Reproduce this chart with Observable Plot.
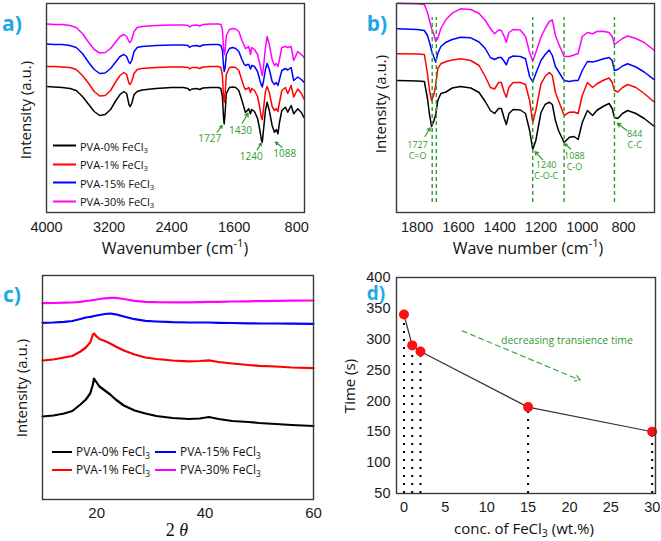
<!DOCTYPE html>
<html><head><meta charset="utf-8">
<script src="https://cdn.jsdelivr.net/npm/d3@7"></script>
<script src="https://cdn.jsdelivr.net/npm/@observablehq/plot@0.6"></script>
<style>
html,body{margin:0;padding:0;background:#fff;}
#fig{position:relative;width:661px;height:541px;overflow:hidden;font-family:"Open Sans",sans-serif;background:#fff;}
.panel{position:absolute;}
.t{position:absolute;white-space:nowrap;transform:translate(-50%,-50%);line-height:1;color:#111;}
.rot{transform:translate(-50%,-50%) rotate(-90deg);}
.lab{font-weight:bold;color:#1ea7e8;font-size:21px;line-height:0.65;}
sub{font-size:70%;vertical-align:-0.3em;line-height:0;}
sup{font-size:70%;vertical-align:0.6em;line-height:0;}
.leg{position:absolute;display:flex;align-items:center;white-space:nowrap;transform:translateY(-50%);color:#111;line-height:1;}
.leg .sw{display:inline-block;height:0;border-top:2px solid;margin-right:4px;}
</style></head><body><div id="fig"></div><script>
// ---------- series ----------
const seriesNames = ["PVA-0% FeCl3", "PVA-1% FeCl3", "PVA-15% FeCl3", "PVA-30% FeCl3"];
const seriesLegend = ["PVA-0% FeCl<sub>3</sub>", "PVA-1% FeCl<sub>3</sub>", "PVA-15% FeCl<sub>3</sub>", "PVA-30% FeCl<sub>3</sub>"];
const seriesColors = ["#000000", "#ff0000", "#0000ff", "#ff00ff"];

// ---------- panel a: FTIR full range ----------
const wnA = [4000,3900,3800,3700,3620,3540,3460,3390,3320,3250,3180,3120,3060,3010,2975,2945,2930,2910,2880,2840,2780,2600,2400,2250,2190,2168,2140,2080,2040,2000,1900,1800,1770,1750,1735,1727,1715,1700,1660,1620,1580,1540,1500,1470,1455,1430,1413,1391,1375,1340,1300,1270,1250,1240,1225,1200,1178,1150,1114,1084,1060,1040,1020,990,944,914,871,838,786,740,710,700];
const a0 = [126,125.5,125,124,122,116,108,101,97,98,103,111,118,121,119,108,106,109,118,121,122.5,124,125,125,124,122,123.5,124,123,124.5,125,125,124,116,94,88.5,100,119,125,125.5,125,122,112,104,100,102,103.7,98.7,103,101,94,82,72,70.3,82,102,110.3,102,87,80.3,83,78.7,90,102,105.3,100.3,107,98.7,103.7,100,95.3,95];
const a1 = [146,146,145.5,145,143,137,129,121,116.5,117,122,130,137,140,138,129,128,131,139,143,144,145,145.5,145.5,145,143.5,145,145,144,145.5,146,146,145,137,115,110,119,138,145,145.5,145,142,132,125,123,124,125,120,124,122,116,104,94,93,103,121,126,120,106,102,104,101,110,122,125,119,127,115.5,123.5,119,114,113.5];
const a15 = [168.5,168,168,167,165,159,150,143,139,139.5,144,150,156,158,156,150,149,152,161,165,166,167,167.5,167.5,167,165,166.5,167,166,167.5,168,168,167,162,146,141,145,158,164,165,164,161,153,148,147,148,148,143.5,147,146,141,132,127,125.5,131,143,149,143,131,128,130,127,133,142,144,142.5,145,132,135.5,133,130.5,130];
const a30 = [188.5,188,188,187,185,179,170,163,159.5,160,164,170,176,178,176,171,170,173,181,185,186,187,187.5,187.5,187,185.5,187,187.5,186.5,188,188.5,188.5,188,183,164,158,162,177,183,184,183.5,181,172,167,164,165,166,158,165,163,158,148,140,137,145,165,176,168,153,147,149,146,153,165,166,165,166,152,161,158,155.5,155];
const ticksA = [4000,3200,2400,1600,800];

// ---------- panel b: FTIR fingerprint ----------
const wnB = [1895,1800,1765,1750,1740,1730,1720,1710,1700,1685,1660,1630,1590,1540,1500,1470,1445,1425,1405,1392,1378,1368,1355,1335,1300,1275,1255,1240,1225,1200,1180,1160,1145,1130,1115,1088,1062,1040,1020,1000,975,950,930,900,870,855,844,828,805,780,740,700,650];
const b0 = [132,131.5,131,114,98,86,91,98,112,119,120.5,124.5,126,124.5,120,111,102,99,104,104,94,88,99,103,102.5,99,82,63,72,100,108,110.3,108,92,82,70,75.3,76,73,90,102,97,102,106,109,104,95,94,99,102,99,94,86];
const b1 = [158.7,158.5,158,139,122,112,117,127,144,148.7,151,152.5,153.7,152,147,136,125,123.5,130,130,120,115.3,125.3,130,130,128,112,90,102,128.7,136,140,137,120,112,97,100.3,100.5,99,117,130,125,128.5,132,134.5,130,122,120.5,125,128,125,119,110.3];
const b15 = [183.7,183,182,177,170,162,156,150.3,159,166,170.3,173,175.3,174.7,170.5,164,155,153,155,155,151,147.7,154.5,156.5,156,153.7,136,130.5,139,152,158,162.5,157,146,141,132,131,132,132,142,151,150.5,151.5,153.5,155,152,142,143,146.5,148.7,145.5,140.5,132.7];
const b30 = [209.3,208.7,208,200,192,184,179,171,174,184,193,199.3,203.7,203,199,192,184,178.7,182.5,182,176,170.3,180,183,182.5,176,160,151.3,160,175.3,184,191,192.7,177,169,156,156,157.5,159,176,180,178.7,181,181.3,180,176,168,170.5,174,176.5,174,170,162];
const ticksB = [1800,1600,1400,1200,1000,800];
const peakLinesB = [1727,1707,1240,1088,844];

// ---------- panel c: XRD ----------
const thetaC = [10,12,14,15.5,17,18,18.8,19.3,19.5,20,20.5,21.5,22.5,23.5,25,27,29,31,34,37,39,40.7,42.5,45,48,50,53,56,60];
const c0 = [83,84,86,88.5,95,100,106,115,121,117,113,109,105,100,94,89,86,83.5,81.5,80.5,81,82.5,80.5,78.5,77.5,76.5,75.5,74.5,73.5];
const c1 = [139,140,142,143.5,148,152,157,165,166,163,160.5,158.5,156,153,149,145,142,140.5,139,138.2,138.5,139.2,137.5,136,134.5,133.7,133,132,131.3];
const c15 = [176.7,177,177.7,178.5,180.5,182,182.7,183.2,183.5,184,184.5,185.5,186,185.2,183,180.3,178.7,178,177.3,177,177,177,176.7,176.5,176.2,176,176,175.8,175.7];
const c30 = [196.3,196.5,196.8,197,197.7,198.5,199,199.3,199.5,200,200.5,201.2,201.7,201.7,200.5,198.7,197.7,197.3,197.2,197.2,197.4,197.6,197.7,198,198.2,198.4,198.6,198.8,199];
const ticksC = [20,40,60];

// ---------- panel d: transience time ----------
const concD = [0,1,2,15,30];
const timeD = [340,290,280,190,150];
const ticksDx = [0,5,10,15,20,25,30];
const ticksDy = [50,100,150,200,250,300,350,400];

// ---------- annotations ----------
const green = "#2f9b2f";
const annA = [
  {label:"1727", lx:1912, ly:73.7, tx:1817, ty:80.3, hx:1753, hy:87},
  {label:"1430", lx:1519, ly:81.3, tx:1497, ty:89.3, hx:1421, hy:99.3},
  {label:"1240", lx:1382, ly:56, tx:1306, ty:62.7, hx:1251, hy:69.3},
  {label:"1088", lx:953, ly:58.7, tx:986, ty:65.3, hx:1072, hy:70.3}
];
const annB = [
  {label:"1727", sub:"C=O", lx:1798, ly:67.5, tx:1762, ty:76, hx:1737, hy:84.5},
  {label:"1240", sub:"C-O-C", lx:1175, ly:47.5, tx:1191, ty:52.7, hx:1229, hy:61},
  {label:"1088", sub:"C-O", lx:1038, ly:56.8, tx:1057, ty:63.7, hx:1085, hy:68.7},
  {label:"844", sub:"C-C", lx:746, ly:78.5, tx:778, ty:81, hx:830, hy:89.3}
];
const annBLineGap = 11;
const trendD = [{x1:7.05, y1:313.5, x2:21.3, y2:233.6, label:"decreasing transience time", lx:19.7, ly:297.2}];

// ---------- helpers ----------
function longTable(xs, arrays) {
  return arrays.flatMap((arr, k) => xs.map((x, i) => ({x, v: arr[i], s: seriesNames[k]})));
}
const fig = document.getElementById("fig");
function place(node, left, top) {
  const d = document.createElement("div");
  d.className = "panel"; d.style.left = left + "px"; d.style.top = top + "px";
  d.appendChild(node); fig.appendChild(d);
}
function text(html, x, y, opts = {}) {
  const d = document.createElement("div");
  d.className = "t" + (opts.rot ? " rot" : "") + (opts.cls ? " " + opts.cls : "");
  d.style.left = x + "px"; d.style.top = y + "px";
  if (opts.size) d.style.fontSize = opts.size + "px";
  if (opts.family) d.style.fontFamily = opts.family;
  d.innerHTML = html; fig.appendChild(d);
}
function legend(items, x, y, swW, size) {
  items.forEach(k => {
    const d = document.createElement("div");
    d.className = "leg"; d.style.left = x + "px"; d.style.top = y[k] + "px"; d.style.fontSize = size + "px";
    d.innerHTML = `<span class="sw" style="width:${swW}px;border-color:${seriesColors[k]}"></span><span>${seriesLegend[k]}</span>`;
    fig.appendChild(d);
  });
}
const baseStyle = {fontFamily: "'Liberation Sans', Arial, sans-serif", fontSize: "14.5px", color: "#1a1a1a", background: "transparent", overflow: "visible"};
const colorScale = {domain: seriesNames, range: seriesColors};
const frame = Plot.frame({stroke: "#3a3a3a", strokeWidth: 1.4});

// ---------- panel a ----------
place(Plot.plot({
  width: 330, height: 270, marginLeft: 46, marginRight: 26, marginTop: 3, marginBottom: 58,
  style: baseStyle, color: colorScale,
  x: {domain: [4000, 700], ticks: ticksA, tickSize: 0, tickPadding: 9, tickFormat: d => String(d), label: null},
  y: {domain: [0, 209], axis: null},
  marks: [
    Plot.line(longTable(wnA, [a0, a1, a15, a30]), {x: "x", y: "v", z: "s", stroke: "s", strokeWidth: 1.5}),
    Plot.arrow(annA, {x1: "tx", y1: "ty", x2: "hx", y2: "hy", stroke: green, strokeWidth: 1.2, headLength: 5}),
    Plot.text(annA, {x: "lx", y: "ly", text: "label", fill: green, fontSize: 10, fontFamily: "Open Sans"}),
    frame
  ]
}), 0, 0);

// ---------- panel b ----------
place(Plot.plot({
  width: 331, height: 270, marginLeft: 66, marginRight: 7, marginTop: 3, marginBottom: 58,
  style: baseStyle, color: colorScale,
  x: {domain: [1900, 650], ticks: ticksB, tickSize: 0, tickPadding: 9, tickFormat: d => String(d), label: null},
  y: {domain: [0, 209], axis: null},
  marks: [
    Plot.line(longTable(wnB, [b0, b1, b15, b30]), {x: "x", y: "v", z: "s", stroke: "s", strokeWidth: 1.5}),
    Plot.ruleX(peakLinesB, {x: d => d, y1: 10, y2: 195, stroke: green, strokeWidth: 1.4, strokeDasharray: "4,3"}),
    Plot.arrow(annB, {x1: "tx", y1: "ty", x2: "hx", y2: "hy", stroke: green, strokeWidth: 1.2, headLength: 5}),
    Plot.text(annB, {x: "lx", y: "ly", text: "label", fill: green, fontSize: 9, fontFamily: "Open Sans", stroke: "white", strokeWidth: 2, paintOrder: "stroke"}),
    Plot.text(annB, {x: "lx", y: "ly", dy: annBLineGap, text: "sub", fill: green, fontSize: 9, fontFamily: "Open Sans", stroke: "white", strokeWidth: 2, paintOrder: "stroke"}),
    frame
  ]
}), 330, 0);

// ---------- panel c ----------
place(Plot.plot({
  width: 330, height: 271, marginLeft: 42, marginRight: 17, marginTop: 5, marginBottom: 42,
  style: {...baseStyle, fontSize: "15px"}, color: colorScale,
  x: {domain: [10, 60], ticks: ticksC, tickSize: 0, tickPadding: 8, label: null},
  y: {domain: [0, 224], axis: null},
  marks: [
    Plot.line(longTable(thetaC, [c0, c1, c15, c30]), {x: "x", y: "v", z: "s", stroke: "s", strokeWidth: 2.2}),
    frame
  ]
}), 0, 270);

// ---------- panel d ----------
const dataD = concD.map((c, i) => ({conc: c, time: timeD[i]}));
const yMinD = 50;
place(Plot.plot({
  width: 331, height: 271, marginLeft: 66, marginRight: 6, marginTop: 7, marginBottom: 48,
  style: baseStyle,
  x: {domain: [-0.9, 30.4], ticks: ticksDx, tickSize: 0, tickPadding: 8, label: null},
  y: {domain: [yMinD, 400], ticks: ticksDy, tickSize: 0, tickPadding: 6, label: null},
  marks: [
    Plot.ruleX(dataD, {x: "conc", y1: () => yMinD, y2: "time", stroke: "#000", strokeWidth: 2, strokeDasharray: "2,6"}),
    Plot.line(dataD, {x: "conc", y: "time", stroke: "#333", strokeWidth: 1.2}),
    Plot.dot(dataD, {x: "conc", y: "time", r: 5, fill: "#ff1010", stroke: "none"}),
    Plot.arrow(trendD, {x1: "x1", y1: "y1", x2: "x2", y2: "y2", stroke: "#3aa83a", strokeWidth: 1.2, strokeDasharray: "5,4", headLength: 7}),
    Plot.text(trendD, {x: "lx", y: "ly", text: "label", fill: green, fontSize: 10.5, fontFamily: "Open Sans"}),
    frame
  ]
}), 330, 270);

// ---------- titles, labels, legends ----------
text("Intensity (a.u.)", 25, 110, {rot: true, size: 15});
text("Wavenumber (cm<sup>-1</sup>)", 175, 248, {size: 16});
text("Intensity (a.u.)", 380, 104, {rot: true, size: 15});
text("Wave number (cm<sup>-1</sup>)", 528, 248, {size: 16});
text("Intensity (a.u.)", 21, 388, {rot: true, size: 15});
text("2 <i>θ</i>", 177, 530, {size: 18, family: "'Liberation Serif', 'DejaVu Serif', serif"});
text("Time (s)", 349, 386, {rot: true, size: 15});
text("conc. of FeCl<sub>3</sub> (wt.%)", 524, 528, {size: 15});

text("a)", 12, 24, {cls: "lab"});
text("b)", 377, 24, {cls: "lab"});
text("c)", 12, 295, {cls: "lab"});
text("d)", 376, 293, {cls: "lab", size: 19});

legend([0, 1, 2, 3], 53, [145.7, 164, 182.7, 201], 23, 11);
legend([0, 1], 52, {0: 451.7, 1: 470}, 20, 12);
legend([2, 3], 155, {2: 451.7, 3: 470}, 21, 12);
</script></body></html>
